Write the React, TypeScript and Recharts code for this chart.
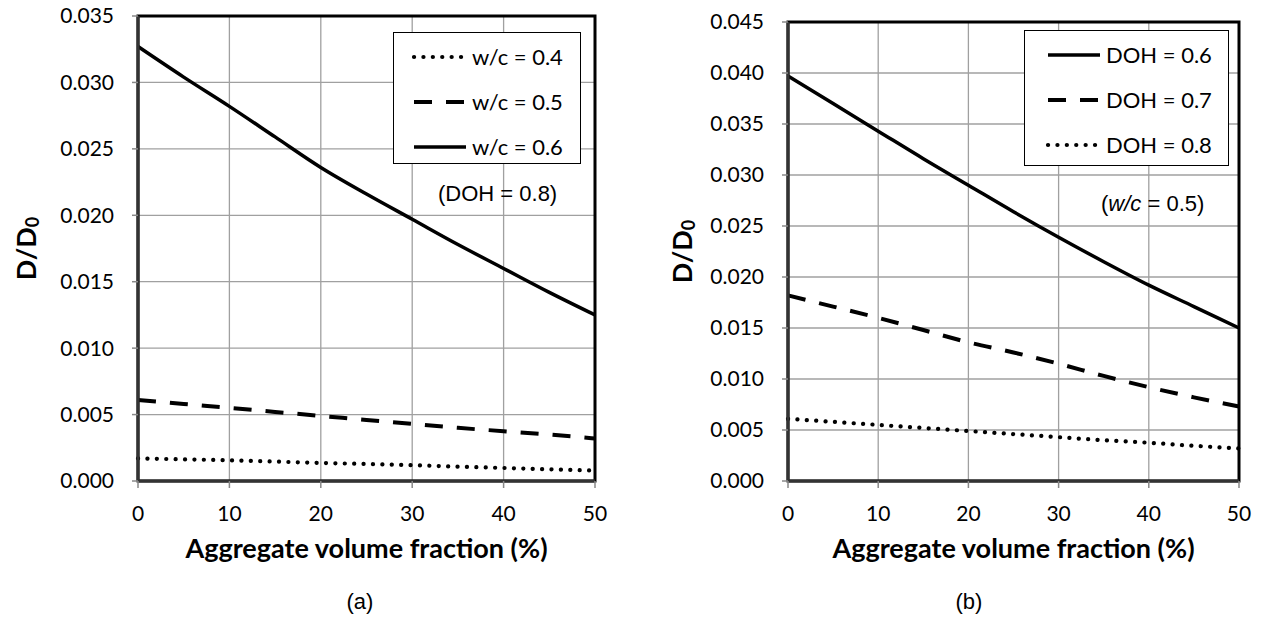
import React from "react";
import {
  LineChart,
  Line,
  XAxis,
  YAxis,
  CartesianGrid,
  Legend,
  ReferenceArea,
  Label,
} from "recharts";

// aggregate volume fraction (%)
const aggregate = [0, 5, 10, 15, 20, 25, 30, 35, 40, 45, 50];

// panel (a): DOH = 0.8
const wc04 = [0.0017, 0.00163, 0.00156, 0.00146, 0.00136, 0.00128, 0.00119, 0.00108, 0.00098, 0.00088, 0.00078];
const wc05 = [0.0061, 0.0058, 0.0055, 0.0052, 0.0049, 0.0046, 0.0043, 0.004, 0.00375, 0.0035, 0.0032];
const wc06 = [0.0327, 0.0304, 0.0282, 0.0259, 0.0236, 0.0216, 0.0197, 0.0178, 0.016, 0.0142, 0.0125];

// panel (b): w/c = 0.5
const doh06 = [0.0397, 0.037, 0.0343, 0.0316, 0.029, 0.0264, 0.0239, 0.0215, 0.0192, 0.0171, 0.015];
const doh07 = [0.0182, 0.0171, 0.016, 0.0148, 0.0136, 0.0126, 0.0115, 0.0103, 0.0092, 0.0082, 0.0073];
const doh08 = [0.0061, 0.0058, 0.0055, 0.0052, 0.0049, 0.0046, 0.0043, 0.004, 0.00375, 0.00345, 0.0032];

const xTicks = [0, 10, 20, 30, 40, 50];
const yTicksA = [0, 0.005, 0.01, 0.015, 0.02, 0.025, 0.03, 0.035];
const yTicksB = [0, 0.005, 0.01, 0.015, 0.02, 0.025, 0.03, 0.035, 0.04, 0.045];

const dataA = aggregate.map((x, i) => ({ x, wc04: wc04[i], wc05: wc05[i], wc06: wc06[i] }));
const dataB = aggregate.map((x, i) => ({ x, doh06: doh06[i], doh07: doh07[i], doh08: doh08[i] }));

const DOTTED = { dash: "0.1 9.3", width: 4.2, cap: "round" as const };
const DASHED = { dash: "18 14", width: 4, cap: "butt" as const };
const SOLID = { dash: undefined, width: 3.5, cap: "butt" as const };

const seriesA = [
  { key: "wc04", name: "w/c = 0.4", ...DOTTED },
  { key: "wc05", name: "w/c = 0.5", ...DASHED },
  { key: "wc06", name: "w/c = 0.6", ...SOLID },
];
const seriesB = [
  { key: "doh06", name: "DOH = 0.6", ...SOLID },
  { key: "doh07", name: "DOH = 0.7", ...DASHED },
  { key: "doh08", name: "DOH = 0.8", ...DOTTED },
];

const FONT = "Lato, 'Noto Sans', sans-serif";
const tickStyle = { fontFamily: FONT, fontSize: 21, fill: "#000" };

const LegendBox = ({ items, width, height, lineLeft }: any) => (
  <div
    style={{
      width,
      height,
      boxSizing: "border-box",
      border: "1.5px solid #000",
      background: "#fff",
      fontFamily: FONT,
      fontSize: 22,
      color: "#000",
      paddingTop: 1,
    }}
  >
    {items.map((s: any) => (
      <div key={s.key} style={{ display: "flex", alignItems: "center", height: 45 }}>
        <svg width={lineLeft + 58} height={12} style={{ flex: "none" }}>
          <line
            x1={lineLeft}
            y1={6}
            x2={lineLeft + 52}
            y2={6}
            stroke="#000"
            strokeWidth={s.width}
            strokeDasharray={s.dash}
            strokeLinecap={s.cap}
          />
        </svg>
        <span>{s.name}</span>
      </div>
    ))}
  </div>
);

const yTitle = (offset: number) => (props: any) => {
  const vb = props.viewBox || {};
  const cx = vb.x + vb.width - offset;
  const cy = vb.y + vb.height / 2;
  return (
    <text
      x={cx}
      y={cy}
      transform={`rotate(-90 ${cx} ${cy})`}
      textAnchor="middle"
      dominantBaseline="central"
      fontFamily={FONT}
      fontWeight={700}
      fontSize={27}
      fill="#000"
    >
      D/D
      <tspan fontSize={18} dy={7}>
        0
      </tspan>
    </text>
  );
};

const xTitle = (props: any) => {
  const vb = props.viewBox || {};
  return (
    <text
      x={vb.x + vb.width / 2}
      y={vb.y + 77}
      textAnchor="middle"
      fontFamily={FONT}
      fontWeight={700}
      fontSize={27}
      fill="#000"
    >
      Aggregate volume fraction (%)
    </text>
  );
};

const Panel = ({ data, series, yTicks, yMax, margin, width, yOffset, legend }: any) => (
  <LineChart width={width} height={620} data={data} margin={margin}>
    <CartesianGrid stroke="#a0a0a0" strokeWidth={1.3} />
    <XAxis
      dataKey="x"
      type="number"
      domain={[0, 50]}
      ticks={xTicks}
      tick={tickStyle}
      tickSize={7}
      tickMargin={18}
      tickLine={{ stroke: "#888", strokeWidth: 1.5 }}
      axisLine={{ stroke: "#333", strokeWidth: 3 }}
      height={60}
    >
      <Label content={xTitle} />
    </XAxis>
    <YAxis
      type="number"
      domain={[0, yMax]}
      ticks={yTicks}
      tickFormatter={(v: number) => v.toFixed(3)}
      tick={tickStyle}
      tickSize={6}
      tickMargin={18}
      tickLine={{ stroke: "#888", strokeWidth: 1.5 }}
      axisLine={{ stroke: "#333", strokeWidth: 3 }}
      width={60}
      interval={0}
    >
      <Label content={yTitle(yOffset)} />
    </YAxis>
    <ReferenceArea x1={0} x2={50} y1={0} y2={yMax} fill="none" stroke="#000" strokeWidth={3} />
    <Legend
      layout="vertical"
      align="center"
      verticalAlign="middle"
      wrapperStyle={{ left: legend.left, top: legend.top, width: legend.width }}
      content={() => (
        <LegendBox items={series} width={legend.width} height={legend.height} lineLeft={legend.lineLeft} />
      )}
    />
    {series.map((s: any) => (
      <Line
        key={s.key}
        dataKey={s.key}
        name={s.name}
        type="monotone"
        stroke="#000"
        strokeWidth={s.width}
        strokeDasharray={s.dash}
        strokeLinecap={s.cap}
        dot={false}
        activeDot={false}
        isAnimationActive={false}
      />
    ))}
  </LineChart>
);

export default function App() {
  return (
    <div style={{ position: "absolute", left: 0, top: 0, width: 1262, height: 620, background: "#fff" }}>
      <div style={{ position: "absolute", left: 0, top: 0 }}>
        <Panel
          data={dataA}
          series={seriesA}
          yTicks={yTicksA}
          yMax={0.035}
          width={620}
          margin={{ top: 16, right: 25, left: 78, bottom: 79 }}
          yOffset={113}
          legend={{ left: 393, top: 32, width: 188, height: 132, lineLeft: 20 }}
        />
      </div>
      <div style={{ position: "absolute", left: 620, top: 0 }}>
        <Panel
          data={dataB}
          series={seriesB}
          yTicks={yTicksB}
          yMax={0.045}
          width={642}
          margin={{ top: 22, right: 23, left: 108, bottom: 79 }}
          yOffset={107}
          legend={{ left: 404, top: 30, width: 205, height: 136, lineLeft: 23 }}
        />
      </div>
      <svg
        width={1262}
        height={620}
        style={{ position: "absolute", left: 0, top: 0, pointerEvents: "none" }}
        fontFamily="'Liberation Sans', Arial, sans-serif"
        fontSize={22}
      >
        <text x={438} y={201}>(DOH = 0.8)</text>
        <text x={1101} y={211}>
          (<tspan fontStyle="italic">w/c</tspan> = 0.5)
        </text>
        <text x={360} y={609} textAnchor="middle">(a)</text>
        <text x={969} y={609} textAnchor="middle">(b)</text>
      </svg>
    </div>
  );
}
